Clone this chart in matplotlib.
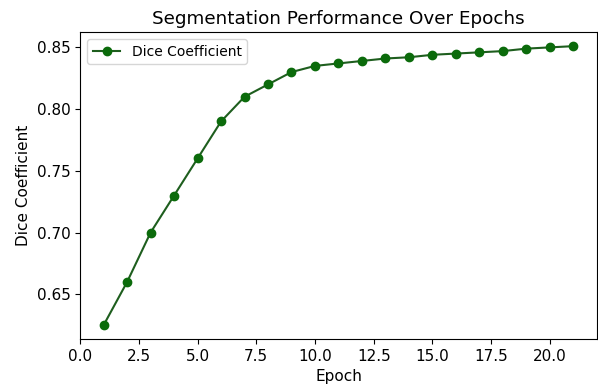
import numpy as np
import matplotlib
matplotlib.use('Agg')
import matplotlib.pyplot as plt

epochs = list(range(1, 22))
dice = [0.625, 0.66, 0.70, 0.73, 0.76, 0.79, 0.81, 0.82, 0.83, 0.835, 0.837,
        0.839, 0.841, 0.842, 0.844, 0.845, 0.846, 0.847, 0.849, 0.850, 0.851]

plt.rcParams['font.size'] = 11

fig, ax = plt.subplots(figsize=(5.98, 3.88), dpi=100)
ax.plot(epochs, dice, marker='o', color='#1e5e1e', markeredgecolor='#0b6b0b',
        markerfacecolor='#0b6b0b', label='Dice Coefficient')
ax.set_xlabel('Epoch')
ax.set_ylabel('Dice Coefficient')
ax.set_title('Segmentation Performance Over Epochs')
ax.set_xlim(0, 22)
ax.legend(loc='upper left', fontsize=10)
# reference is cropped tight on the right
fig.subplots_adjust(left=0.134, right=0.998, bottom=0.126, top=0.917)
fig.savefig('out.png', dpi=100)
